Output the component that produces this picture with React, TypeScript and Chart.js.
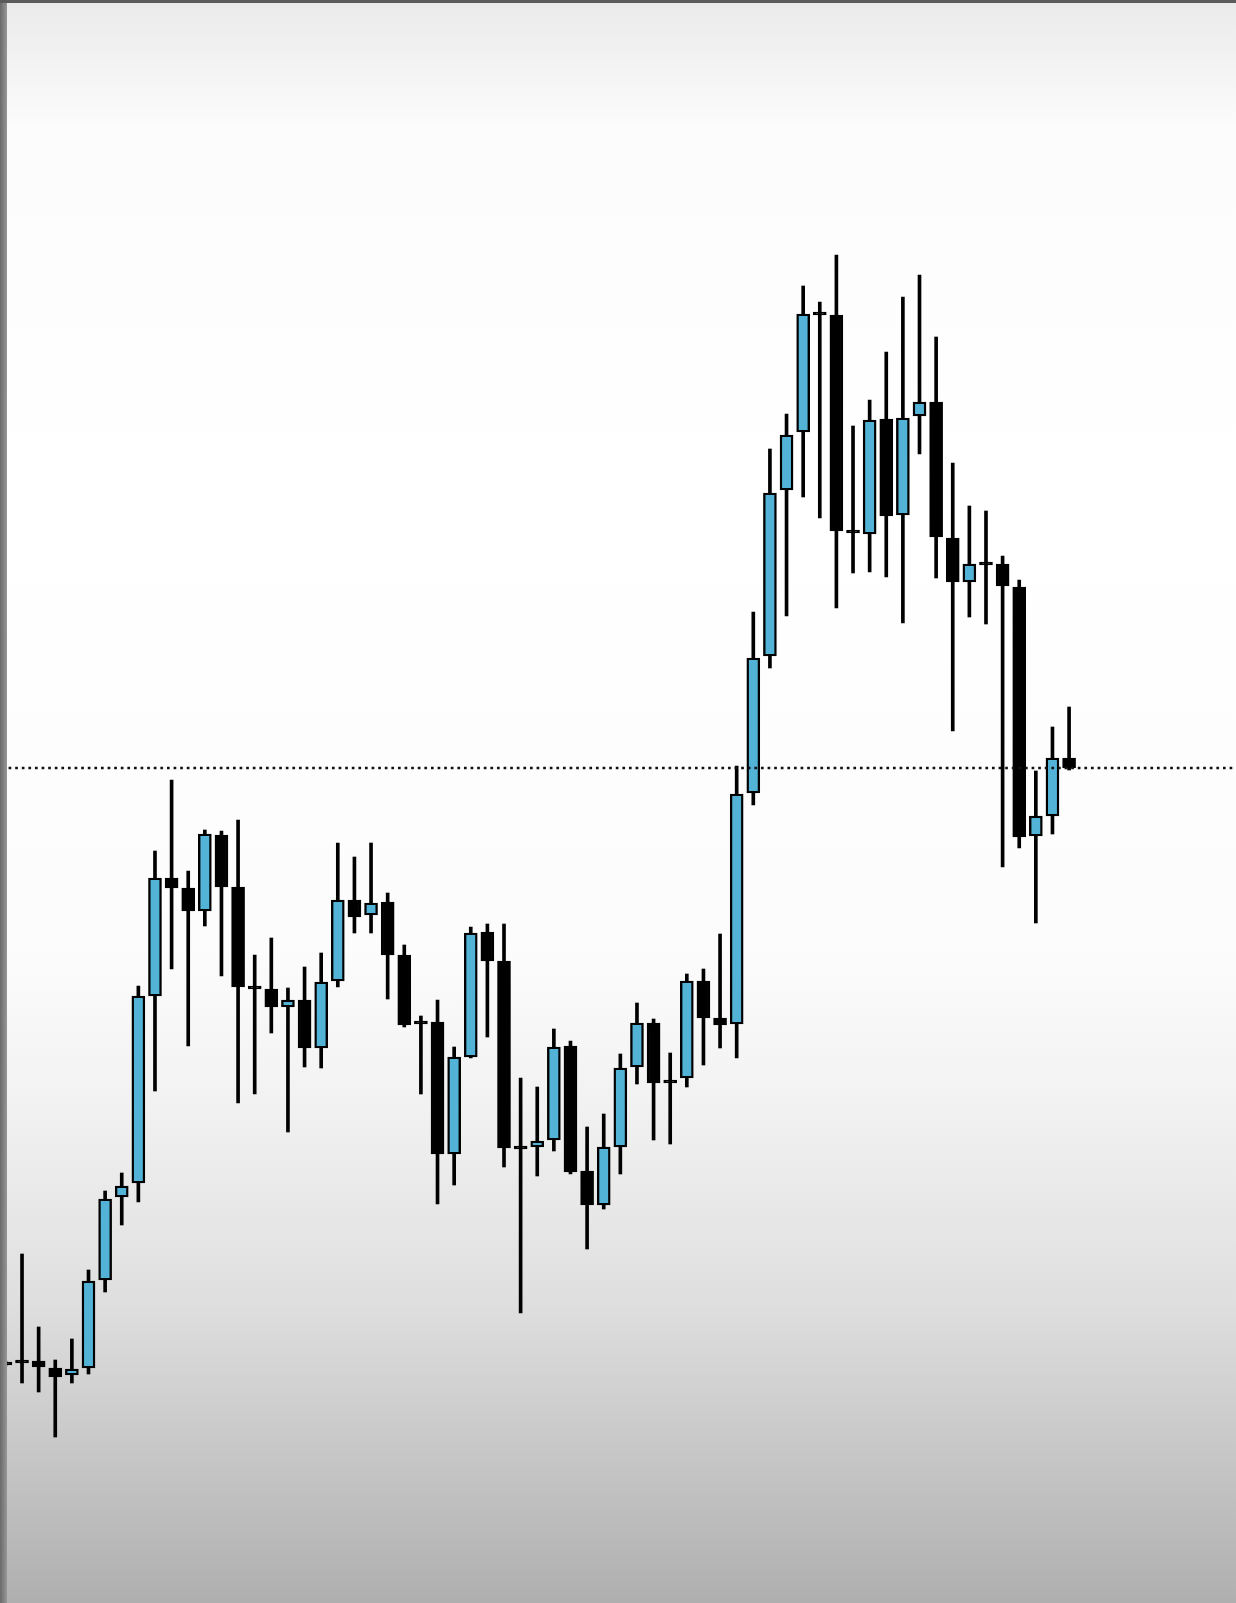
import React, { useEffect, useRef } from "react";
import { Chart, registerables } from "chart.js";

Chart.register(...registerables);

// Price values (arbitrary price units, higher = up)
const openPrices = [
  241, 243, 242, 235, 228, 235, 323, 406, 420, 607,
  725, 715, 692, 768, 716, 617, 614, 596, 603, 555,
  622, 703, 688, 701, 648, 582, 581, 449, 546, 671,
  642, 457, 456, 463, 557, 432, 398, 456, 536, 580,
  523, 525, 622, 585, 579, 810, 947, 1113, 1171, 1291,
  1288, 1073, 1069, 1184, 1088, 1187, 1201, 1065, 1021, 1041,
  1039, 1016, 767, 787, 845,
];
const highPrices = [
  242, 349, 276, 243, 264, 333, 412, 430, 617, 752,
  823, 732, 773, 772, 783, 648, 665, 615, 636, 650,
  760, 746, 760, 710, 658, 587, 603, 556, 676, 679,
  679, 525, 516, 574, 562, 476, 489, 549, 600, 584,
  550, 629, 634, 669, 837, 991, 1154, 1189, 1317, 1301,
  1348, 1177, 1203, 1251, 1306, 1328, 1266, 1140, 1097, 1092,
  1047, 1023, 832, 876, 896,
];
const lowPrices = [
  237, 220, 211, 166, 220, 229, 311, 378, 401, 512,
  634, 557, 677, 627, 500, 509, 570, 471, 536, 535,
  616, 670, 670, 604, 576, 509, 399, 418, 545, 566,
  436, 290, 427, 452, 429, 354, 394, 429, 519, 463,
  459, 516, 538, 555, 545, 798, 935, 987, 1106, 1085,
  995, 1030, 1031, 1026, 980, 1149, 1025, 872, 986, 979,
  736, 755, 680, 769, 833,
];
const closePrices = [
  238, 240, 236, 226, 234, 322, 404, 417, 607, 725,
  715, 692, 769, 716, 616, 614, 596, 603, 555, 621,
  703, 686, 700, 648, 578, 579, 449, 546, 670, 642,
  455, 454, 462, 556, 431, 398, 456, 535, 580, 520,
  520, 622, 585, 578, 809, 945, 1110, 1168, 1289, 1288,
  1072, 1070, 1183, 1087, 1185, 1201, 1066, 1021, 1039, 1038,
  1017, 766, 787, 845, 835,
];
const keyLevel = 835;

const candleX = openPrices.map((_, i) => i);

const BULL = "#52b3d6";
const BEAR = "#000000";

export default function App() {
  const ref = useRef<HTMLCanvasElement | null>(null);

  useEffect(() => {
    if (!ref.current) return;
    const bg = {
      id: "bg",
      beforeDraw(chart: any) {
        const { ctx, width, height } = chart;
        ctx.save();
        const g = ctx.createLinearGradient(0, 0, 0, height);
        g.addColorStop(0, "#eaeaea");
        g.addColorStop(130 / height, "#fcfcfc");
        g.addColorStop(500 / height, "#ffffff");
        g.addColorStop(950 / height, "#fcfcfc");
        g.addColorStop(1100 / height, "#f2f2f2");
        g.addColorStop(1300 / height, "#dfdfdf");
        g.addColorStop(1, "#afafaf");
        ctx.fillStyle = g;
        ctx.fillRect(0, 0, width, height);
        ctx.restore();
      },
      afterDraw(chart: any) {
        const { ctx, width, height } = chart;
        ctx.save();
        const s = ctx.createLinearGradient(0, 0, 7, 0);
        s.addColorStop(0, "#6a6a6a");
        s.addColorStop(1, "#979797");
        ctx.fillStyle = s;
        ctx.fillRect(0, 0, 7, height);
        ctx.fillStyle = "#5b5b5b";
        ctx.fillRect(0, 0, width, 3);
        ctx.restore();
      },
    };

    const chart = new Chart(ref.current, {
      type: "bar",
      data: {
        datasets: [
          {
            type: "line",
            label: "level",
            data: [
              { x: -1, y: keyLevel },
              { x: 80, y: keyLevel },
            ],
            borderColor: "#111111",
            borderWidth: 2.7,
            borderDash: [2.7, 3.9],
            pointRadius: 0,
            order: 0,
          } as any,
          {
            label: "body",
            data: candleX.map((x, i) => ({ x, y: [openPrices[i], closePrices[i]] })),
            backgroundColor: candleX.map((_, i) =>
              closePrices[i] > openPrices[i] ? BULL : BEAR
            ),
            borderColor: "#000000",
            borderWidth: 2.4,
            borderSkipped: false,
            barThickness: 13,
            grouped: false,
            order: 1,
          } as any,
          {
            label: "wick",
            data: candleX.map((x, i) => ({ x, y: [lowPrices[i], highPrices[i]] })),
            backgroundColor: "#000000",
            borderWidth: 0,
            barThickness: 3,
            grouped: false,
            order: 2,
          } as any,
        ],
      },
      options: {
        responsive: false,
        animation: false,
        devicePixelRatio: 1,
        events: [],
        layout: { padding: 0 },
        plugins: { legend: { display: false }, tooltip: { enabled: false } },
        scales: {
          x: { type: "linear", min: -0.325, max: 74.043, display: false, offset: false },
          y: { type: "linear", min: 0, max: 1603, display: false },
        },
      },
      plugins: [bg],
    } as any);
    return () => chart.destroy();
  }, []);

  return (
    <div style={{ position: "absolute", left: 0, top: 0, width: 1236, height: 1603 }}>
      <canvas ref={ref} width={1236} height={1603} style={{ display: "block" }} />
    </div>
  );
}
